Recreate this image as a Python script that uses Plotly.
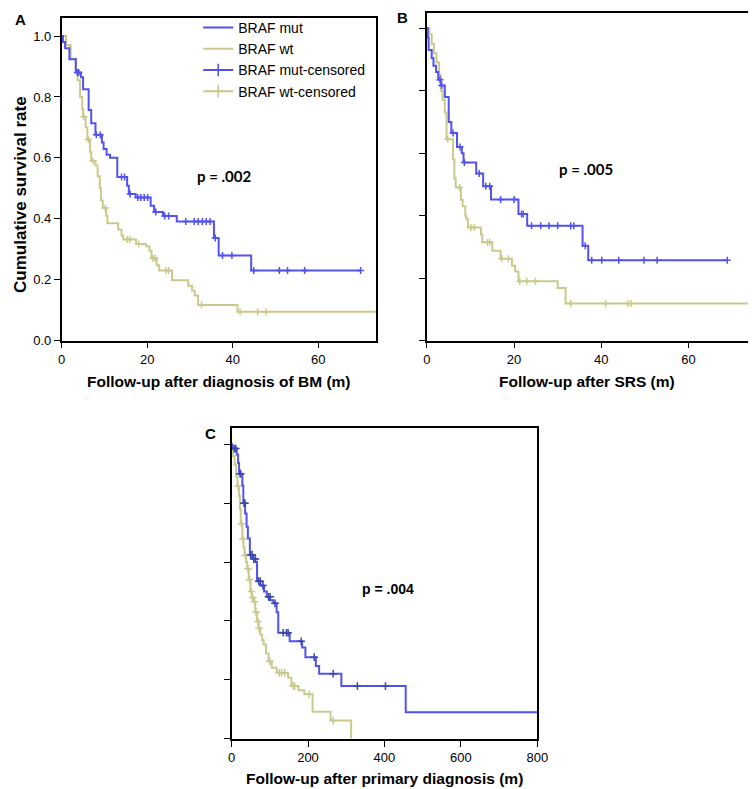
import plotly.graph_objects as go

W, H = 756, 789

# ---------------- Panel A: follow-up after diagnosis of BM (months) ----------------
a_mut_t = [0.3, 0.8, 1.8, 3.3, 4.5, 5.0, 6.3, 6.9, 7.9, 9.4, 9.8, 10.5, 11.3, 13.0,
           15.3, 15.7, 17.3, 20.8, 21.6, 23.7, 26.9, 35.6, 36.7, 44.3]
a_mut_s = [0.98, 0.96, 0.924, 0.88, 0.865, 0.825, 0.757, 0.714, 0.676, 0.65, 0.629, 0.61,
           0.60, 0.537, 0.508, 0.481, 0.47, 0.443, 0.422, 0.409, 0.391, 0.337, 0.279, 0.23]
a_mut_cens = [3.7, 4.0, 8.1, 9.0, 14.0, 14.7, 16.0, 17.8, 18.5, 19.3, 20.1, 22.0, 24.1,
              25.0, 29.0, 31.0, 31.9, 32.9, 33.8, 34.7, 35.9, 37.6, 39.8, 44.9, 50.9,
              52.8, 56.8, 69.9]

a_wt_t = [1.0, 2.1, 3.3, 3.7, 4.3, 4.8, 5.0, 5.6, 6.0, 6.6, 6.9, 7.9, 8.4, 8.9, 9.2, 9.6,
          10.4, 10.7, 13.2, 14.0, 14.4, 17.4, 19.7, 20.5, 21.0, 22.2, 22.8, 25.8, 29.6,
          30.5, 31.1, 31.9, 41.1]
a_wt_s = [0.97, 0.925, 0.89, 0.855, 0.80, 0.76, 0.735, 0.70, 0.66, 0.62, 0.59, 0.575, 0.54,
          0.50, 0.46, 0.435, 0.41, 0.385, 0.365, 0.345, 0.332, 0.317, 0.31, 0.295, 0.27,
          0.247, 0.23, 0.198, 0.18, 0.164, 0.148, 0.117, 0.095]
a_wt_cens = [5.2, 6.2, 7.3, 10.2, 15.3, 15.9, 18.0, 21.3, 21.8, 24.4, 25.0, 32.7, 41.7,
             45.8, 47.8, 80.0]

# ---------------- Panel B: follow-up after SRS (months) ----------------
b_mut_t = [0.2, 0.4, 1.1, 1.5, 2.1, 2.6, 3.2, 4.1, 5.0, 5.6, 6.9, 8.0, 8.4, 11.3, 12.9,
           14.7, 21.0, 23.0, 35.7, 37.0]
b_mut_s = [0.97, 0.93, 0.905, 0.88, 0.86, 0.835, 0.817, 0.78, 0.70, 0.665, 0.62, 0.60,
           0.57, 0.535, 0.494, 0.452, 0.405, 0.368, 0.304, 0.257]
b_mut_cens = [3.0, 3.4, 6.0, 7.6, 8.6, 12.0, 13.5, 14.4, 16.9, 20.0, 21.7, 22.1, 24.0,
              26.1, 28.0, 30.0, 33.0, 33.7, 36.3, 37.8, 40.1, 44.0, 49.8, 52.8, 68.9]

b_wt_t = [0.6, 1.1, 1.6, 2.2, 2.8, 3.2, 3.6, 4.1, 4.5, 6.0, 6.3, 6.6, 7.8, 8.2, 8.8, 9.0,
          9.4, 12.4, 12.7, 15.0, 16.9, 19.5, 20.2, 21.0, 30.0, 31.8]
b_wt_s = [0.98, 0.95, 0.92, 0.89, 0.85, 0.80, 0.77, 0.73, 0.645, 0.58, 0.52, 0.49, 0.45,
          0.43, 0.40, 0.39, 0.362, 0.34, 0.315, 0.288, 0.262, 0.24, 0.221, 0.19, 0.168,
          0.119]
b_wt_cens = [4.8, 7.5, 10.1, 10.9, 13.9, 14.4, 17.2, 18.7, 21.3, 22.9, 24.9, 33.0, 41.0,
             46.1, 46.8, 80.0]

# ---------------- Panel C: follow-up after primary diagnosis (months) ----------------
c_mut_t = [2, 13.7, 17.1, 19.7, 28.2, 30.8, 35.5, 39.3, 42.7, 47.9, 55, 62.5, 66.7, 75.5,
           85, 92.3, 101, 109.4, 117.9, 122.2, 152.1, 184.6, 193.2, 220.5, 229.1, 287.2,
           455.6]
c_mut_s = [0.985, 0.965, 0.936, 0.90, 0.86, 0.80, 0.765, 0.72, 0.68, 0.625, 0.61, 0.60,
           0.535, 0.52, 0.50, 0.482, 0.47, 0.46, 0.43, 0.36, 0.331, 0.31, 0.277, 0.247,
           0.221, 0.179, 0.09]
c_mut_cens = [6.8, 11.1, 22.2, 23.9, 32.5, 35.0, 49.6, 53.8, 58.1, 62.4, 70.9, 75.2, 82.1,
              96.6, 100.9, 113.7, 135.0, 143.6, 147.9, 182.1, 216.2, 265.8, 329.1, 402.6,
              820.0]

c_wt_t = [1, 4, 8, 12, 15.4, 19.7, 22, 23.9, 28.2, 31, 34.2, 38, 41.0, 45, 49.6, 53, 58.1,
          62, 66.7, 71, 75.2, 80, 83.8, 90, 96.6, 105, 118, 148, 156.4, 175, 190.6, 212,
          259, 312.8]
c_wt_s = [0.985, 0.96, 0.93, 0.89, 0.857, 0.824, 0.78, 0.73, 0.678, 0.65, 0.622, 0.60,
          0.577, 0.54, 0.50, 0.48, 0.465, 0.43, 0.398, 0.375, 0.353, 0.335, 0.32, 0.29,
          0.263, 0.241, 0.224, 0.207, 0.179, 0.165, 0.151, 0.092, 0.062, 0.0]
c_wt_cens = [17, 26, 30, 36, 43, 47, 52, 55, 60, 64, 69, 72, 100, 125, 131, 139, 161, 165,
             203, 266]

series_names = ["BRAF mut", "BRAF wt", "BRAF mut-censored", "BRAF wt-censored"]
p_labels = ["p = .002", "p = .005", "p = .004"]
x_titles = ["Follow-up after diagnosis of BM (m)", "Follow-up after SRS (m)",
            "Follow-up after primary diagnosis (m)"]
y_title = "Cumulative survival rate"
panel_letters = ["A", "B", "C"]

BLUE = "#5252EE"
BLUE_C_MARK = "#3A48A8"
TAN = "#C9C98D"
FONT = "Arial, Liberation Sans, sans-serif"


def step_xy(t, s, cens):
    t_end = max(t[-1], max(cens))
    return [0.0] + list(t) + [t_end], [1.0] + list(s) + [s[-1]]


def surv_at(t_ev, s_ev, tc):
    val = 1.0
    for t, s in zip(t_ev, s_ev):
        if t <= tc:
            val = s
    return val


fig = go.Figure()

panels = [
    ("x", "y", a_mut_t, a_mut_s, a_mut_cens, a_wt_t, a_wt_s, a_wt_cens, BLUE, 5),
    ("x2", "y2", b_mut_t, b_mut_s, b_mut_cens, b_wt_t, b_wt_s, b_wt_cens, BLUE, 5),
    ("x3", "y3", c_mut_t, c_mut_s, c_mut_cens, c_wt_t, c_wt_s, c_wt_cens, BLUE_C_MARK, 5.5),
]

for xa, ya, mt, ms, mc, wt, ws, wc, mark_col, msize in panels:
    # wt first so mut is drawn on top
    for t, s, c, col, mcol in [(wt, ws, wc, TAN, TAN), (mt, ms, mc, BLUE, mark_col)]:
        xs, ys = step_xy(t, s, c)
        fig.add_trace(go.Scatter(x=xs, y=ys, mode="lines", line=dict(color=col, width=2, shape="hv"),
                                 xaxis=xa, yaxis=ya, showlegend=False, hoverinfo="skip"))
        fig.add_trace(go.Scatter(x=c, y=[surv_at(t, s, ci) for ci in c], mode="markers",
                                 marker=dict(symbol="cross-thin", size=msize,
                                             line=dict(color=mcol, width=1.5)),
                                 xaxis=xa, yaxis=ya, showlegend=False, hoverinfo="skip"))

# legend entries (no data, legend glyphs only)
for name, col, mode in [(series_names[0], BLUE, "lines"), (series_names[1], TAN, "lines"),
                        (series_names[2], BLUE, "lines+markers"), (series_names[3], TAN, "lines+markers")]:
    fig.add_trace(go.Scatter(x=[None], y=[None], mode=mode, name=name,
                             line=dict(color=col, width=2),
                             marker=dict(symbol="cross-thin", size=9, line=dict(color=col, width=1.6)),
                             xaxis="x", yaxis="y"))


def xd(l, r):
    return [l / W, r / W]


def yd(top, bottom):
    return [1 - bottom / H, 1 - top / H]


def px(x):
    return x / W


def py(y):
    return 1 - y / H


axis_common = dict(showline=True, linecolor="black", linewidth=1.6, mirror=True,
                   ticks="outside", ticklen=6, tickwidth=1.2, tickcolor="black",
                   showgrid=False, zeroline=False,
                   tickfont=dict(family=FONT, size=13, color="black"))

fig.update_layout(
    xaxis=dict(domain=xd(50.7, 371), range=[0, 73.4], tickvals=[0, 20, 40, 60], anchor="y", **axis_common),
    yaxis=dict(domain=yd(10, 336), range=[0, 1.0595], tickvals=[0, 0.2, 0.4, 0.6, 0.8, 1.0],
               tickformat=".1f", anchor="x", **axis_common),
    xaxis2=dict(domain=xd(423.3, 750.7), range=[0, 73.6], tickvals=[0, 20, 40, 60], anchor="y2", **axis_common),
    yaxis2=dict(domain=yd(5, 336), range=[0, 1.049], tickvals=[0, 0.2, 0.4, 0.6, 0.8, 1.0],
                showticklabels=False, anchor="x2", **axis_common),
    xaxis3=dict(domain=xd(224, 536), range=[0, 800], tickvals=[0, 200, 400, 600, 800], anchor="y3", **axis_common),
    yaxis3=dict(domain=yd(424.3, 738.3), range=[0, 1.055], tickvals=[0, 0.2, 0.4, 0.6, 0.8, 1.0],
                showticklabels=False, anchor="x3", **axis_common),
)

annotations = []
# x-axis titles
for text, cx, cy in [(x_titles[0], 211, 377), (x_titles[1], 587, 377), (x_titles[2], 380, 778)]:
    annotations.append(dict(text="<b>%s</b>" % text, x=px(cx), y=py(cy), xref="paper", yref="paper",
                            showarrow=False, xanchor="center", yanchor="middle",
                            font=dict(family=FONT, size=15.5, color="black")))
# y-axis title
annotations.append(dict(text="<b>%s</b>" % y_title, x=px(8), y=py(188), xref="paper", yref="paper",
                        showarrow=False, xanchor="center", yanchor="middle", textangle=-90,
                        font=dict(family=FONT, size=17, color="black")))
# panel letters
for letter, cx, cy in [(panel_letters[0], 9, 12), (panel_letters[1], 398, 10), (panel_letters[2], 203, 430)]:
    annotations.append(dict(text="<b>%s</b>" % letter, x=px(cx), y=py(cy), xref="paper", yref="paper",
                            showarrow=False, xanchor="center", yanchor="middle",
                            font=dict(family=FONT, size=15, color="black")))
# p values (data coordinates)
annotations.append(dict(text="<b>%s</b>" % p_labels[0], x=38, y=0.54, xref="x", yref="y", showarrow=False,
                        font=dict(family="Lato, Open Sans, sans-serif", size=15, color="black")))
annotations.append(dict(text="<b>%s</b>" % p_labels[1], x=36.6, y=0.55, xref="x2", yref="y2", showarrow=False,
                        font=dict(family="Lato, Open Sans, sans-serif", size=15, color="black")))
annotations.append(dict(text="<b>%s</b>" % p_labels[2], x=410, y=0.51, xref="x3", yref="y3", showarrow=False,
                        font=dict(family=FONT, size=14, color="black")))

fig.update_layout(
    width=W, height=H, margin=dict(l=0, r=0, t=0, b=0),
    paper_bgcolor="white", plot_bgcolor="white",
    annotations=annotations,
    legend=dict(x=px(190), y=py(4), xanchor="left", yanchor="top", bgcolor="rgba(0,0,0,0)",
                borderwidth=0, font=dict(family=FONT, size=14, color="black"),
                tracegroupgap=0, itemwidth=30),
)

fig.write_html("out.html")
